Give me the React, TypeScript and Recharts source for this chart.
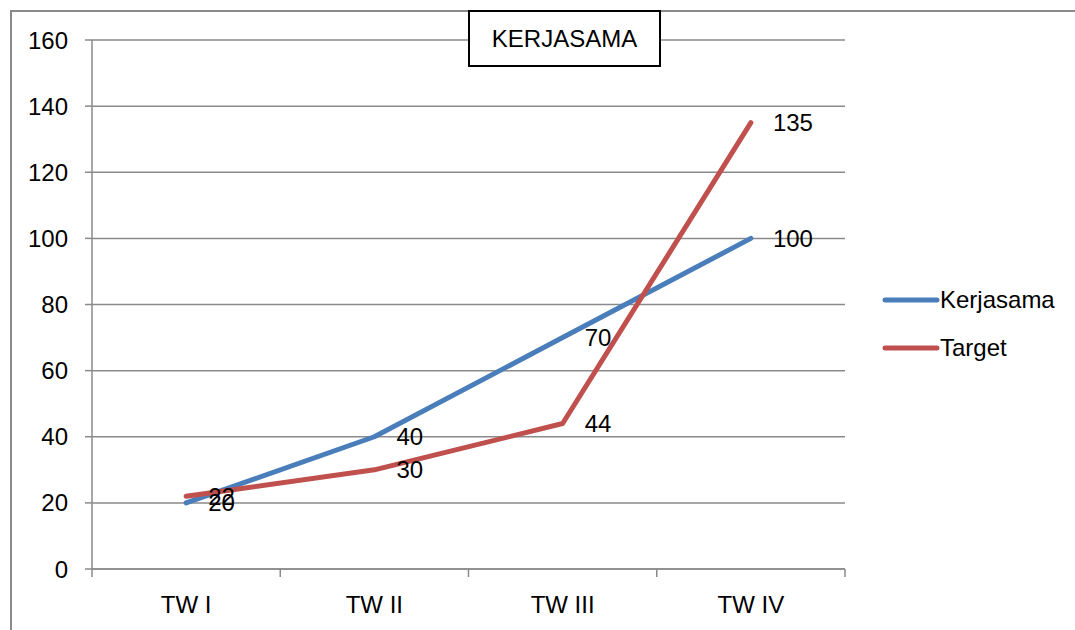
import React from 'react';
import { LineChart, Line, XAxis, YAxis, CartesianGrid, LabelList, Legend } from 'recharts';

const categories = ['TW I', 'TW II', 'TW III', 'TW IV'];
const kerjasama = [20, 40, 70, 100];
const target = [22, 30, 44, 135];
const yTicks = [0, 20, 40, 60, 80, 100, 120, 140, 160];

const data = categories.map((c, i) => ({ name: c, Kerjasama: kerjasama[i], Target: target[i] }));

const FONT = '"Liberation Sans", Arial, sans-serif';
const GRID = '#8a8a8a';
const BLUE = '#4a7ebb';
const RED = '#c0504d';

const XTick = (props: any) => {
  const { x, y, payload, index, visibleTicksCount } = props;
  const half = payload && payload.offset ? payload.offset : 0;
  const last = index === (visibleTicksCount ?? categories.length) - 1;
  return (
    <g>
      <line x1={x - half} x2={x - half} y1={y} y2={y + 8} stroke={GRID} strokeWidth={1.5} />
      {last && <line x1={x + half} x2={x + half} y1={y} y2={y + 8} stroke={GRID} strokeWidth={1.5} />}
      <text x={x} y={y + 44} textAnchor="middle" fontSize={24} fontFamily={FONT} fill="#000">
        {payload.value}
      </text>
    </g>
  );
};

const renderLegend = (props: any) => {
  const { payload } = props;
  return (
    <div style={{ fontFamily: FONT, fontSize: 24, color: '#000' }}>
      {(payload || []).map((entry: any) => (
        <div key={entry.value} style={{ display: 'flex', alignItems: 'center', height: 48 }}>
          <svg width={58} height={10} style={{ marginRight: 0 }}>
            <line x1={3} x2={55} y1={5} y2={5} stroke={entry.color} strokeWidth={5} strokeLinecap="round" />
          </svg>
          <span>{entry.value}</span>
        </div>
      ))}
    </div>
  );
};

export default function App() {
  return (
    <div style={{ position: 'fixed', left: 0, top: 0, width: 1075, height: 630, overflow: 'hidden', background: '#fff' }}>
      <div style={{ position: 'absolute', left: 10, top: 10, width: 1200, height: 800, border: `2px solid ${GRID}`, boxSizing: 'border-box' }} />
      <LineChart
        width={1075}
        height={630}
        data={data}
        margin={{ top: 40, right: 230, left: 0, bottom: 0 }}
        style={{ position: 'absolute', left: 0, top: 0 }}
      >
        <CartesianGrid vertical={false} stroke={GRID} strokeWidth={1.5} />
        <XAxis
          dataKey="name"
          scale="band"
          height={61}
          axisLine={{ stroke: GRID, strokeWidth: 1.5 }}
          tickLine={false}
          tickSize={0}
          tickMargin={0}
          tick={<XTick />}
          interval={0}
        />
        <YAxis
          width={92}
          domain={[0, 160]}
          ticks={yTicks}
          interval={0}
          axisLine={{ stroke: GRID, strokeWidth: 1.5 }}
          tickLine={{ stroke: GRID, strokeWidth: 1.5 }}
          tickSize={7}
          tickMargin={17}
          tick={{ fontSize: 24, fontFamily: FONT, fill: '#000' }}
        />
        <Legend
          layout="vertical"
          align="center"
          verticalAlign="middle"
          wrapperStyle={{ left: 882, top: 276, width: 190 }}
          content={renderLegend}
        />
        <Line
          type="linear"
          dataKey="Kerjasama"
          stroke={BLUE}
          strokeWidth={5}
          strokeLinecap="round"
          strokeLinejoin="round"
          dot={false}
          activeDot={false}
          isAnimationActive={false}
        >
          <LabelList dataKey="Kerjasama" position="right" offset={22} fontSize={24} fontFamily={FONT} fill="#000" />
        </Line>
        <Line
          type="linear"
          dataKey="Target"
          stroke={RED}
          strokeWidth={5}
          strokeLinecap="round"
          strokeLinejoin="round"
          dot={false}
          activeDot={false}
          isAnimationActive={false}
        >
          <LabelList dataKey="Target" position="right" offset={22} fontSize={24} fontFamily={FONT} fill="#000" />
        </Line>
      </LineChart>
      <div
        style={{
          position: 'absolute',
          left: 468,
          top: 10,
          width: 193,
          height: 57,
          boxSizing: 'border-box',
          border: '2px solid #000',
          background: '#fff',
          display: 'flex',
          alignItems: 'center',
          justifyContent: 'center',
          fontFamily: FONT,
          fontSize: 24,
          color: '#000',
        }}
      >
        KERJASAMA
      </div>
    </div>
  );
}
